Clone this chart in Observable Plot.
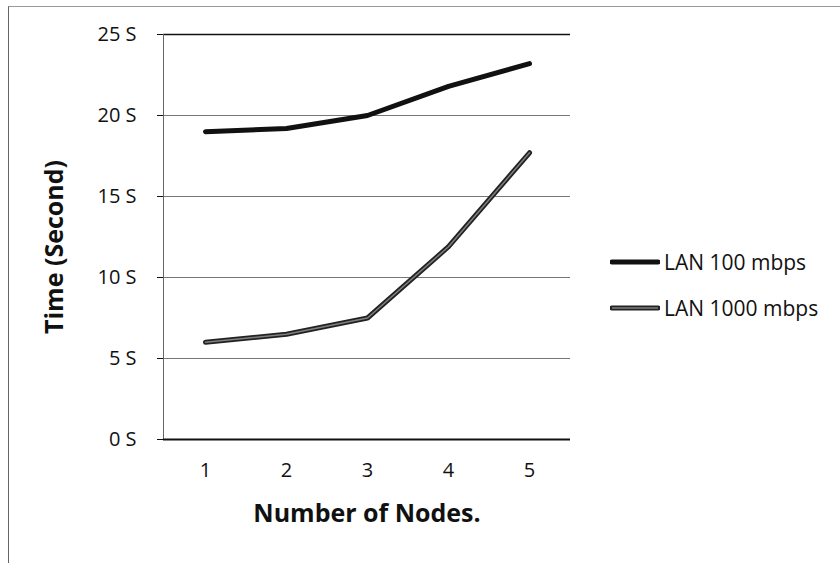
<!DOCTYPE html>
<html><head><meta charset="utf-8">
<script src="https://cdn.jsdelivr.net/npm/d3@7"></script>
<script src="https://cdn.jsdelivr.net/npm/@observablehq/plot@0.6"></script>
<style>
body{margin:0;background:#fff;}
#wrap{position:relative;width:840px;height:563px;overflow:hidden;font-family:"Open Sans",sans-serif;background:#fff;}
#frame{position:absolute;left:8px;top:6px;width:900px;height:600px;border-top:1px solid #999;border-left:1.5px solid #666;}
#chart{position:absolute;left:0;top:0;}
.leg{position:absolute;left:610px;height:24px;display:flex;align-items:center;font-size:21px;color:#111;white-space:nowrap;}
.leg svg{margin-right:4px;}
</style></head><body>
<div id="wrap"><div id="frame"></div><div id="chart"></div></div>
<script>
const nodes = [1, 2, 3, 4, 5];
const lan100 = [19.0, 19.2, 20.0, 21.8, 23.2];
const lan1000 = [6.0, 6.5, 7.5, 11.9, 17.7];
const seriesNames = ["LAN 100 mbps", "LAN 1000 mbps"];
const yTicks = [0, 5, 10, 15, 20, 25];
const xTitle = "Number of Nodes.";
const yTitle = "Time (Second)";

const d100 = nodes.map((n, i) => ({n, t: lan100[i], s: seriesNames[0]}));
const d1000 = nodes.map((n, i) => ({n, t: lan1000[i], s: seriesNames[1]}));

const chart = Plot.plot({
  width: 840, height: 563,
  marginLeft: 163, marginRight: 270, marginTop: 34, marginBottom: 124,
  style: {fontFamily: '"Open Sans", sans-serif', fontSize: "20px", color: "#111", background: "transparent"},
  x: {type: "point", domain: nodes, padding: 0.5, label: null},
  y: {domain: [0, 25], label: null},
  marks: [
    Plot.gridY(yTicks.slice(1, -1), {stroke: "#777", strokeOpacity: 1}),
    Plot.ruleY([25], {stroke: "#111", strokeWidth: 1.5}),
    Plot.frame({anchor: "left", stroke: "#666"}),
    Plot.axisY({ticks: yTicks, tickSize: 6, tickPadding: 21, tickFormat: d => d + " S", label: null}),
    Plot.axisX({tickSize: 0, tickPadding: 23, label: null}),
    Plot.ruleY([0], {stroke: "#111", strokeWidth: 2}),
    Plot.line(d100, {x: "n", y: "t", stroke: "#111", strokeWidth: 5}),
    Plot.line(d1000, {x: "n", y: "t", stroke: "#222", strokeWidth: 5}),
    Plot.line(d1000, {x: "n", y: "t", stroke: "#808080", strokeWidth: 1.5}),
    Plot.text([xTitle], {frameAnchor: "bottom", dy: 74, lineAnchor: "middle", textAnchor: "middle", fontWeight: "bold", fontSize: 25}),
    Plot.text([yTitle], {frameAnchor: "left", dx: -109, dy: 10, rotate: -90, lineAnchor: "middle", textAnchor: "middle", fontWeight: "bold", fontSize: 25})
  ]
});
document.getElementById("chart").appendChild(chart);

const wrap = document.getElementById("wrap");
const legTops = [250, 296];
seriesNames.forEach((name, i) => {
  const row = document.createElement("div");
  row.className = "leg";
  row.style.top = legTops[i] + "px";
  const inner = i === 0
    ? '<line x1="2" y1="12" x2="48" y2="12" stroke="#111" stroke-width="5" stroke-linecap="round"/>'
    : '<line x1="2" y1="12" x2="48" y2="12" stroke="#222" stroke-width="5" stroke-linecap="round"/><line x1="2" y1="12" x2="48" y2="12" stroke="#808080" stroke-width="1.5"/>';
  row.innerHTML = '<svg width="50" height="24">' + inner + '</svg><span>' + name + '</span>';
  wrap.appendChild(row);
});
</script>
</body></html>
